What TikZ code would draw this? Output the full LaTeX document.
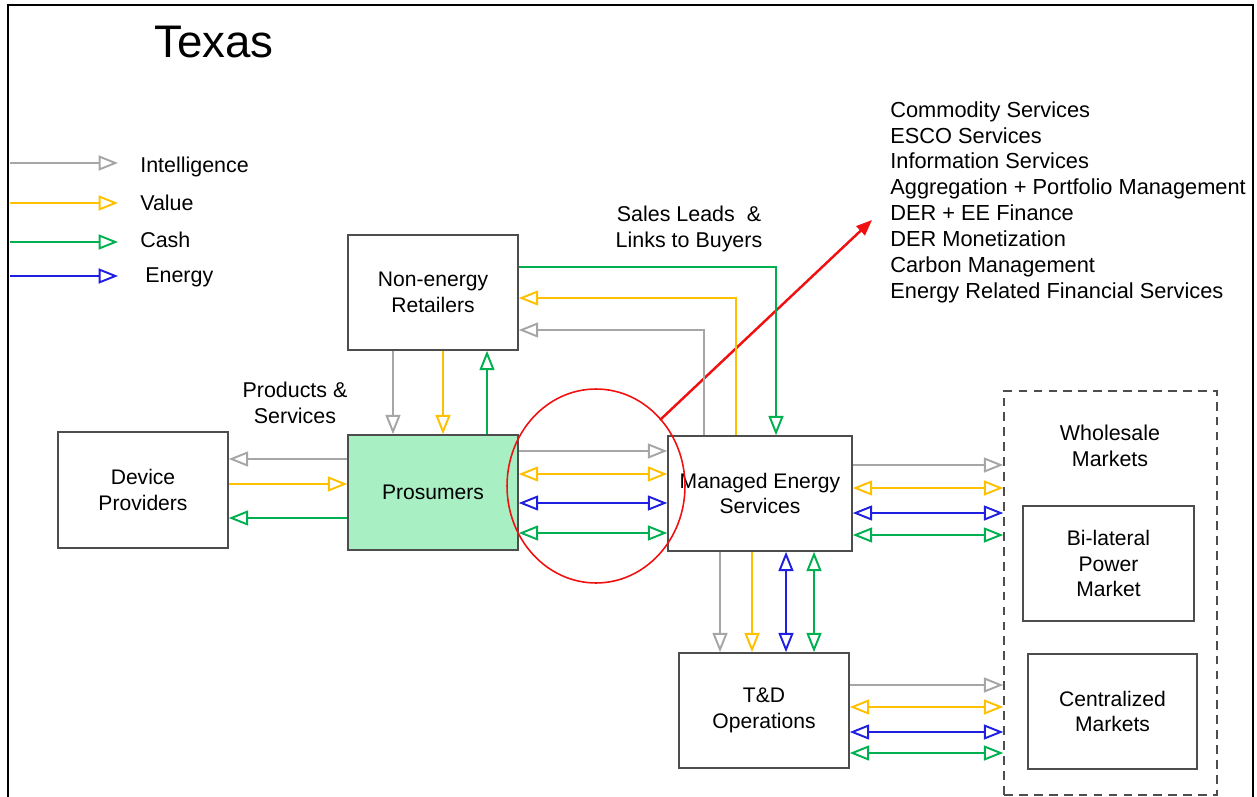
\documentclass[tikz,border=0pt]{standalone}
\usepackage{fontspec}
\setmainfont{Liberation Sans}
\usetikzlibrary{arrows.meta,calc}
\definecolor{edge}{HTML}{4D4D4D}
\definecolor{silver}{HTML}{A6A6A6}
\definecolor{amber}{HTML}{FFC000}
\definecolor{leaf}{HTML}{00B050}
\definecolor{royal}{HTML}{1F1FE0}
\definecolor{mint}{HTML}{A9EFC4}
\definecolor{alert}{HTML}{F01010}
\tikzset{
  box/.style={draw=edge, line width=0.9pt, align=center, inner sep=0pt, font=\fontsize{12}{14.7}\selectfont},
  flow/.style={draw=#1, line width=1.1pt, >={Triangle[open,length=11pt,width=8.5pt]}},
  lab/.style={font=\fontsize{12.2}{14.7}\selectfont, inner sep=0pt, align=center},
}
\begin{document}
\begin{tikzpicture}[x=0.02cm, y=-0.02cm]
  \useasboundingbox (0,0) rectangle (1257,797);
  % frame and title
  \draw[black, line width=1.2pt] (8,797) -- (8,5) -- (1253,5) -- (1253,797);
  \node[lab, font=\fontsize{26}{30}\selectfont] (title) at (214,42) {Texas};

  % legend
  \foreach \c/\t/\y/\x/\b [count=\i] in {silver/Intelligence/163/140/173, amber/Value/203/140/211, leaf/Cash/242/140/248, royal/Energy/276/145/282} {
    \coordinate (l\i) at (10,\y);
    \draw[flow=\c,->] (l\i) -- ++(108,0);
    \node[lab, anchor=base west] (lt\i) at (\x,\b) {\t};
  }

  % boxes
  \node[box, minimum width=3.4cm, minimum height=2.3cm] (ner) at (433,292.5) {Non-energy\\Retailers};
  \node[box, fill=mint, minimum width=3.4cm, minimum height=2.3cm] (pros) at (433,492.5) {Prosumers};
  \node[box, minimum width=3.4cm, minimum height=2.32cm] (dev) at (143,490) {Device\\Providers};
  \node[box, minimum width=3.68cm, minimum height=2.3cm] (mes) at (760,493.5) {Managed Energy\\Services};
  \node[box, minimum width=3.4cm, minimum height=2.3cm] (td) at (764,710.5) {T\&D\\Operations};
  \node[draw=edge, dash pattern=on 5pt off 3.5pt, line width=0.9pt, minimum width=4.26cm, minimum height=8.08cm] (whole) at (1110.5,593) {};
  \node[lab] (wtxt) at (1110,446) {Wholesale\\Markets};
  \node[box, minimum width=3.42cm, minimum height=2.3cm] (bil) at (1108.5,563.5) {Bi-lateral\\Power\\Market};
  \node[box, minimum width=3.38cm, minimum height=2.3cm] (cen) at (1112.5,711.5) {Centralized\\Markets};

  % labels
  \node[lab] (prod) at (295,403) {Products \&\\Services};
  \node[lab] (leads) at (689,229) {Sales Leads~~\&\\Links to Buyers};
  \node[lab, align=left, anchor=west, font=\fontsize{12.4}{14.7}\selectfont] (svc) at (890,202) {Commodity Services\\ESCO Services\\Information Services\\Aggregation + Portfolio Management\\DER + EE Finance\\DER Monetization\\Carbon Management\\Energy Related Financial Services};

  % highlight
  \draw[alert, line width=0.9pt] (596,486) ellipse [x radius=1.78cm, y radius=1.94cm];
  \coordinate (rim) at (660,420);
  \coordinate (tip) at (872,220);
  \draw[alert, line width=1.4pt, -{Triangle[length=9pt,width=7pt]}] (rim) -- (tip);

  % prosumers <-> device providers
  \draw[flow=silver,->] (pros.west |- 0,459) -- (dev.east |- 0,459);
  \draw[flow=amber,->] (dev.east |- 0,484) -- (pros.west |- 0,484);
  \draw[flow=leaf,->] (pros.west |- 0,518) -- (dev.east |- 0,518);
  % retailers <-> prosumers
  \draw[flow=silver,->] (ner.south -| 393,0) -- (pros.north -| 393,0);
  \draw[flow=amber,->] (ner.south -| 443,0) -- (pros.north -| 443,0);
  \draw[flow=leaf,->] (pros.north -| 487,0) -- (ner.south -| 487,0);
  % retailers <-> managed energy services
  \draw[flow=leaf,->] (ner.east |- 0,267) -| (mes.north -| 776,0);
  \draw[flow=amber,->] (mes.north -| 736,0) |- (ner.east |- 0,298);
  \draw[flow=silver,->] (mes.north -| 704,0) |- (ner.east |- 0,330);
  % prosumers <-> managed energy services
  \draw[flow=silver,->] (pros.east |- 0,451) -- (mes.west |- 0,451);
  \foreach \c/\y in {amber/474, royal/503, leaf/533}
    \draw[flow=\c,<->] (pros.east |- 0,\y) -- (mes.west |- 0,\y);
  % to wholesale markets
  \draw[flow=silver,->] (mes.east |- 0,465) -- (whole.west |- 0,465);
  \foreach \c/\y in {amber/488, royal/513, leaf/535}
    \draw[flow=\c,<->] (mes.east |- 0,\y) -- (whole.west |- 0,\y);
  \draw[flow=silver,->] (td.east |- 0,685) -- (whole.west |- 0,685);
  \foreach \c/\y in {amber/707, royal/732, leaf/753}
    \draw[flow=\c,<->] (td.east |- 0,\y) -- (whole.west |- 0,\y);
  % managed energy services <-> T&D
  \draw[flow=silver,->] (mes.south -| 720,0) -- (td.north -| 720,0);
  \draw[flow=amber,->] (mes.south -| 752,0) -- (td.north -| 752,0);
  \foreach \c/\x in {royal/786, leaf/814}
    \draw[flow=\c,<->] (mes.south -| \x,0) -- (td.north -| \x,0);
\end{tikzpicture}
\end{document}
